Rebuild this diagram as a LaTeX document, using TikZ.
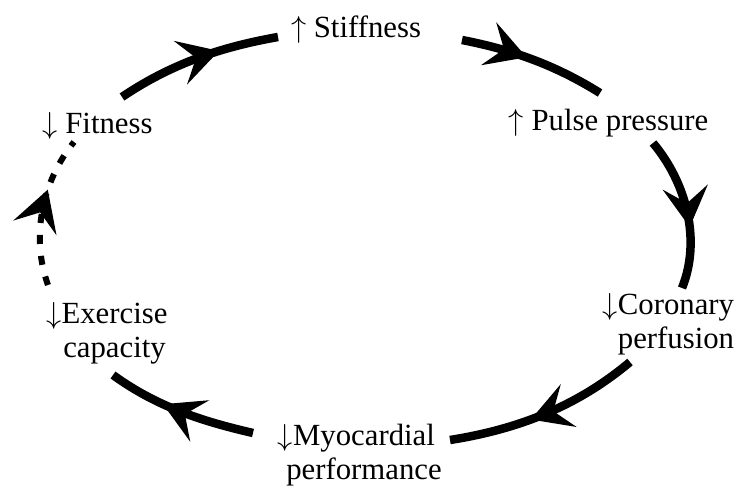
\documentclass[tikz,border=0pt]{standalone}
\usepackage{fontspec}
\setmainfont{Liberation Serif}
\usetikzlibrary{arrows.meta, decorations.markings}

\tikzset{bigtip/.tip={Stealth[length=8mm, width=9mm, inset=3.2mm]}}

\begin{document}
\begin{tikzpicture}[
    font=\fontsize{17.5}{18.8}\selectfont,
    lbl/.style={anchor=base, inner sep=0pt, align=center},
    link/.style={line width=1.7mm, postaction={decorate},
                 decoration={markings, mark=at position #1 with {\arrow{bigtip}}}},
    link/.default=0.6,
    dashlink/.style={line width=1.2mm, dash pattern=on 1.8mm off 2.4mm}
]
\useasboundingbox (0,0) rectangle (14.76,9.72);

\node[lbl] (stiff)    at (7.12, 8.96)  {$\uparrow$ Stiffness};
\node[lbl] (fitness)  at (1.95, 7.06)  {$\downarrow$ Fitness};
\node[lbl] (pulse)    at (12.17, 7.10) {$\uparrow$ Pulse pressure};
\node[lbl] (coronary) at (13.52, 2.76) {\llap{$\downarrow$}Coronary\\perfusion};
\node[lbl] (myo)      at (7.28, 0.14)  {\llap{$\downarrow$}Myocardial\\performance};
\node[lbl] (exercise) at (2.29, 2.58)  {\llap{$\downarrow$}Exercise\\capacity};

% Fitness --> Stiffness
\draw[link=0.64] ([xshift=4.9mm,yshift=7.2mm]fitness.base)
    to[out=34, in=190, looseness=0.9] ([xshift=-15.6mm,yshift=0.2mm]stiff.base);
% Stiffness --> Pulse pressure
\draw[link=0.45] ([xshift=21.2mm,yshift=-0.4mm]stiff.base)
    to[out=-11, in=148, looseness=0.9] ([xshift=-1.7mm,yshift=7.6mm]pulse.base);
% Pulse pressure --> Coronary perfusion
\draw[link=0.6] ([xshift=8.9mm,yshift=-2.4mm]pulse.base)
    to[out=-50, in=68, looseness=0.9] ([xshift=1.2mm,yshift=12mm]coronary.base);
% Coronary perfusion --> Myocardial performance
\draw[link=0.58] ([xshift=-9.2mm,yshift=-2.8mm]coronary.base)
    to[out=220, in=9, looseness=0.9] ([xshift=17.2mm,yshift=7.8mm]myo.base);
% Myocardial performance --> Exercise capacity
\draw[link=0.62] ([xshift=-22.2mm,yshift=9.2mm]myo.base)
    to[out=167, in=-36, looseness=0.9] ([xshift=-0.3mm,yshift=-3.6mm]exercise.base);
% Exercise capacity --> Fitness (dashed)
\draw[link=0.64, dashlink] ([xshift=-13.3mm,yshift=14.4mm]exercise.base)
    to[out=110, in=231, looseness=0.9] ([xshift=-4.7mm,yshift=-1.8mm]fitness.base);

\end{tikzpicture}
\end{document}
